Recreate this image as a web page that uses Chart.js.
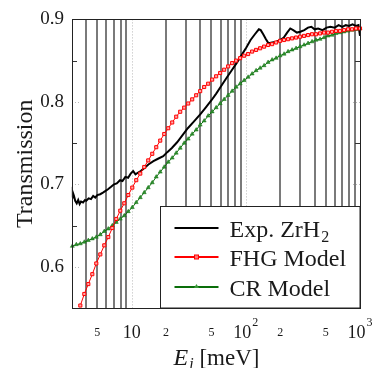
<!DOCTYPE html>
<html>
<head>
<meta charset="utf-8">
<script src="https://cdn.jsdelivr.net/npm/chart.js@4.4.1/dist/chart.umd.min.js"></script>
<style>
  html, body { margin:0; padding:0; background:#ffffff; }
  #wrap { width:375px; height:368px; position:relative; }
</style>
</head>
<body>
<div id="wrap"><canvas id="c" width="375" height="368"></canvas></div>
<script>
// ---- Data ----
const eExp = [3.0,3.05,3.12,3.2,3.3,3.4,3.5,3.6,3.75,3.9,4.0,4.2,4.4,4.6,4.8,5.0,5.3,5.6,5.9,6.2,6.6,7.0,7.4,7.9,8.3,8.8,9.3,9.8,10.3,10.8,11.3,12.0,13.0,14.0,15.5,17.0,18.9,20.5,22.5,25,28,31,35,40,45,50,55,60,67,75,83,92,101,110,120,130,135,142,150,158,170,185,200,215,230,245,260,280,300,325,350,375,400,430,470,510,550,600,650,700,750,800,860,920,970,1000];
const tExp = [0.684,0.690,0.686,0.680,0.677,0.681,0.676,0.679,0.678,0.681,0.680,0.683,0.682,0.686,0.684,0.687,0.688,0.690,0.692,0.694,0.697,0.700,0.701,0.705,0.704,0.709,0.708,0.713,0.716,0.712,0.714,0.716,0.720,0.724,0.728,0.731,0.734,0.739,0.744,0.751,0.760,0.768,0.776,0.785,0.794,0.802,0.810,0.818,0.828,0.838,0.847,0.857,0.866,0.875,0.882,0.888,0.887,0.882,0.876,0.871,0.872,0.873,0.875,0.878,0.884,0.889,0.887,0.884,0.885,0.887,0.890,0.891,0.888,0.889,0.887,0.890,0.891,0.890,0.893,0.891,0.893,0.892,0.894,0.892,0.893,0.880];

const eModel = [3.020,3.273,3.548,3.846,4.169,4.519,4.898,5.309,5.754,6.237,6.761,7.328,7.943,8.610,9.333,10.12,10.96,11.89,12.88,13.96,15.14,16.41,17.78,19.28,20.89,22.65,24.55,26.61,28.84,31.26,33.88,36.73,39.81,43.15,46.77,50.70,54.95,59.57,64.57,69.98,75.86,82.22,89.13,96.61,104.7,113.5,123.0,133.4,144.5,156.7,169.8,184.1,199.5,216.3,234.4,254.1,275.4,298.5,323.6,350.8,380.2,412.1,446.7,484.2,524.8,568.9,616.6,668.3,724.4,785.2,851.1,922.6,1000];
const tFHG = [null,null,0.553,0.567,0.579,0.591,0.604,0.615,0.626,0.636,0.647,0.658,0.668,0.677,0.687,0.696,0.705,0.713,0.721,0.729,0.737,0.745,0.753,0.761,0.768,0.775,0.782,0.788,0.793,0.798,0.803,0.808,0.813,0.818,0.822,0.827,0.831,0.835,0.839,0.843,0.847,0.850,0.853,0.856,0.858,0.861,0.863,0.865,0.867,0.869,0.870,0.872,0.874,0.875,0.876,0.877,0.878,0.879,0.880,0.881,0.882,0.882,0.883,0.884,0.884,0.885,0.886,0.886,0.887,0.888,0.888,0.889,0.889];
const tCR = [0.625,0.627,0.628,0.630,0.632,0.634,0.636,0.639,0.643,0.646,0.650,0.654,0.658,0.662,0.667,0.672,0.678,0.684,0.690,0.696,0.702,0.709,0.715,0.721,0.727,0.732,0.738,0.744,0.750,0.755,0.761,0.766,0.772,0.777,0.783,0.788,0.793,0.798,0.803,0.808,0.813,0.818,0.822,0.826,0.830,0.834,0.838,0.841,0.844,0.848,0.851,0.853,0.856,0.858,0.861,0.863,0.865,0.867,0.869,0.871,0.873,0.875,0.876,0.878,0.880,0.881,0.883,0.884,0.885,0.886,0.887,0.888,0.889];

const seriesNames = ['Exp. ZrH', 'FHG Model', 'CR Model'];
const yTicks = [0.6, 0.7, 0.8, 0.9];
const yMinorTicks = [0.65, 0.75, 0.85];
const xMinorGrid = [4,5,6,7,8,9,20,30,40,50,60,70,80,90,200,300,400,500,600,700,800,900];
const xMajorGrid = [10, 100];
const xTickVals = [5, 10, 20, 50, 100, 200, 500, 1000];
const xTickText = ['5', '10', '2', '5', '10', '2', '5', '10'];
const xTickExp  = ['', '', '', '', '2', '', '', '3'];
const xTickMajor = [false, true, false, false, true, false, false, true];

const SERIF = "'Liberation Serif', 'DejaVu Serif', serif";
const TXT = '#1a1a1a';
const RED = '#ff0000';
const GREEN = '#0a6e0a';

function pts(xs, ys) { return xs.map((v, i) => ({ x: v, y: ys[i] })); }

const deco = {
  id: 'deco',
  beforeDatasetsDraw(chart) {
    const { ctx, chartArea: a, scales: { x, y } } = chart;
    ctx.save();
    ctx.strokeStyle = '#7a7a7a';
    ctx.lineWidth = 2;
    xMinorGrid.forEach(v => {
      const px = Math.round(x.getPixelForValue(v));
      ctx.beginPath(); ctx.moveTo(px, a.top); ctx.lineTo(px, a.bottom); ctx.stroke();
    });
    ctx.strokeStyle = '#b8b8b8';
    ctx.lineWidth = 1;
    ctx.setLineDash([1, 2]);
    xMajorGrid.forEach(v => {
      const px = Math.round(x.getPixelForValue(v)) + 0.5;
      ctx.beginPath(); ctx.moveTo(px, a.top); ctx.lineTo(px, a.bottom); ctx.stroke();
    });
    yTicks.forEach(v => {
      const py = Math.round(y.getPixelForValue(v)) + 0.5;
      ctx.beginPath(); ctx.moveTo(a.left, py); ctx.lineTo(a.left + 7, py); ctx.stroke();
      ctx.beginPath(); ctx.moveTo(a.right - 7, py); ctx.lineTo(a.right, py); ctx.stroke();
    });
    ctx.setLineDash([]);
    ctx.strokeStyle = '#333333';
    yMinorTicks.forEach(v => {
      const py = Math.round(y.getPixelForValue(v)) + 0.5;
      ctx.beginPath(); ctx.moveTo(a.left, py); ctx.lineTo(a.left + 5, py); ctx.stroke();
      ctx.beginPath(); ctx.moveTo(a.right - 5, py); ctx.lineTo(a.right, py); ctx.stroke();
    });
    ctx.restore();
  },
  afterDatasetsDraw(chart) {
    const { ctx, chartArea: a } = chart;
    ctx.save();
    // frame
    ctx.strokeStyle = '#222';
    ctx.lineWidth = 1;
    ctx.strokeRect(Math.round(a.left) + 0.5, Math.round(a.top) + 0.5, Math.round(a.right - a.left), Math.round(a.bottom - a.top));
    // legend
    const L = Math.round(a.right) - 199.5, T = Math.round(a.bottom) - 101.5;
    ctx.fillStyle = '#fff';
    ctx.fillRect(L, T, 199.5, 101.5);
    ctx.strokeRect(L, T, 199.5, 101.5);
    const rows = [21.5, 50.5, 80.5];
    const cols = ['#000', RED, GREEN];
    rows.forEach((ry, i) => {
      const yy = T + ry;
      ctx.strokeStyle = cols[i];
      ctx.lineWidth = 2;
      ctx.beginPath(); ctx.moveTo(L + 14, yy); ctx.lineTo(L + 58, yy); ctx.stroke();
      const mx = L + 36;
      if (i === 1) {
        ctx.fillStyle = 'rgba(255,120,120,1)';
        ctx.fillRect(mx - 2, yy - 2, 4, 4);
        ctx.strokeStyle = RED; ctx.lineWidth = 1;
        ctx.strokeRect(mx - 2, yy - 2, 4, 4);
      } else if (i === 2) {
        ctx.fillStyle = '#3a9a3a';
        ctx.beginPath(); ctx.moveTo(mx, yy - 3); ctx.lineTo(mx + 2.5, yy + 1); ctx.lineTo(mx - 2.5, yy + 1); ctx.closePath(); ctx.fill();
      }
      ctx.fillStyle = TXT;
      ctx.font = '24px ' + SERIF;
      ctx.textAlign = 'left';
      ctx.textBaseline = 'alphabetic';
      const tx = L + 69, base = yy + 8.5;
      ctx.fillText(seriesNames[i], tx, base);
      if (i === 0) {
        const w = ctx.measureText(seriesNames[i]).width;
        ctx.font = '16px ' + SERIF;
        ctx.fillText('2', tx + w + 1, base + 5);
      }
    });
    ctx.restore();
  },
  afterDraw(chart) {
    const { ctx, chartArea: a, scales: { x } } = chart;
    ctx.save();
    ctx.fillStyle = TXT;
    ctx.textBaseline = 'middle';
    ctx.textAlign = 'left';
    const ly = a.bottom + 25;
    xTickVals.forEach((v, i) => {
      const px = x.getPixelForValue(v);
      const big = xTickMajor[i];
      ctx.font = (big ? '18px ' : '12px ') + SERIF;
      const w1 = ctx.measureText(xTickText[i]).width;
      let w2 = 0;
      if (xTickExp[i]) { ctx.font = '12px ' + SERIF; w2 = ctx.measureText(xTickExp[i]).width + 1; }
      const sx = px - (w1 + w2) / 2;
      ctx.font = (big ? '18px ' : '12px ') + SERIF;
      ctx.fillText(xTickText[i], sx, ly);
      if (xTickExp[i]) {
        ctx.font = '12px ' + SERIF;
        ctx.fillText(xTickExp[i], sx + w1 + 1, ly - 10);
      }
    });
    // x title: E_i [meV]
    ctx.textBaseline = 'alphabetic';
    const parts = [
      { t: 'E', f: 'italic 24px ' + SERIF, dy: 0 },
      { t: 'i', f: 'italic 16px ' + SERIF, dy: 4 },
      { t: ' [meV]', f: '23px ' + SERIF, dy: 0 }
    ];
    let tot = 0;
    parts.forEach(p => { ctx.font = p.f; p.w = ctx.measureText(p.t).width; tot += p.w; });
    let cx = (a.left + a.right) / 2 - tot / 2;
    const base = 365;
    parts.forEach(p => { ctx.font = p.f; ctx.fillText(p.t, cx, base + p.dy); cx += p.w + (p.t === 'E' ? 1 : 0); });
    // y title
    ctx.translate(32, (a.top + a.bottom) / 2);
    ctx.rotate(-Math.PI / 2);
    ctx.textAlign = 'center';
    ctx.font = '24px ' + SERIF;
    ctx.fillText('Transmission', 0, 0);
    ctx.restore();
  }
};

new Chart(document.getElementById('c'), {
  type: 'line',
  data: {
    datasets: [
      { label: 'Exp', data: pts(eExp, tExp), borderColor: '#000', borderWidth: 2, pointRadius: 0, order: 3, clip: 1 },
      { label: 'FHG', data: pts(eModel, tFHG), borderColor: RED, borderWidth: 1, pointStyle: 'rect', pointRadius: 2.2, pointBorderWidth: 1, pointBorderColor: RED, pointBackgroundColor: 'rgba(255,170,170,1)', order: 1, clip: 3 },
      { label: 'CR', data: pts(eModel, tCR), borderColor: GREEN, borderWidth: 1, pointStyle: 'triangle', pointRadius: 2.3, pointBorderWidth: 0.5, pointBorderColor: GREEN, pointBackgroundColor: '#2f8f2f', order: 2, clip: 3 }
    ]
  },
  options: {
    responsive: false,
    devicePixelRatio: 1,
    animation: false,
    layout: { padding: { left: 0, right: 15, top: 19, bottom: 0 } },
    plugins: { legend: { display: false }, tooltip: { enabled: false } },
    elements: { line: { tension: 0 } },
    scales: {
      x: {
        type: 'logarithmic', min: 3, max: 1000,
        grid: { display: false, drawTicks: false },
        border: { display: false },
        ticks: { display: false },
        afterFit(s) { s.height = 60; }
      },
      y: {
        type: 'linear', min: 0.55, max: 0.9,
        grid: { display: false, drawTicks: false },
        border: { display: false },
        afterBuildTicks(s) { s.ticks = yTicks.map(v => ({ value: v })); },
        ticks: {
          padding: 8,
          color: TXT,
          font: { family: SERIF, size: 19 },
          callback: v => v.toFixed(1)
        },
        afterFit(s) { s.width = 72; }
      }
    }
  },
  plugins: [deco]
});
</script>
</body>
</html>
